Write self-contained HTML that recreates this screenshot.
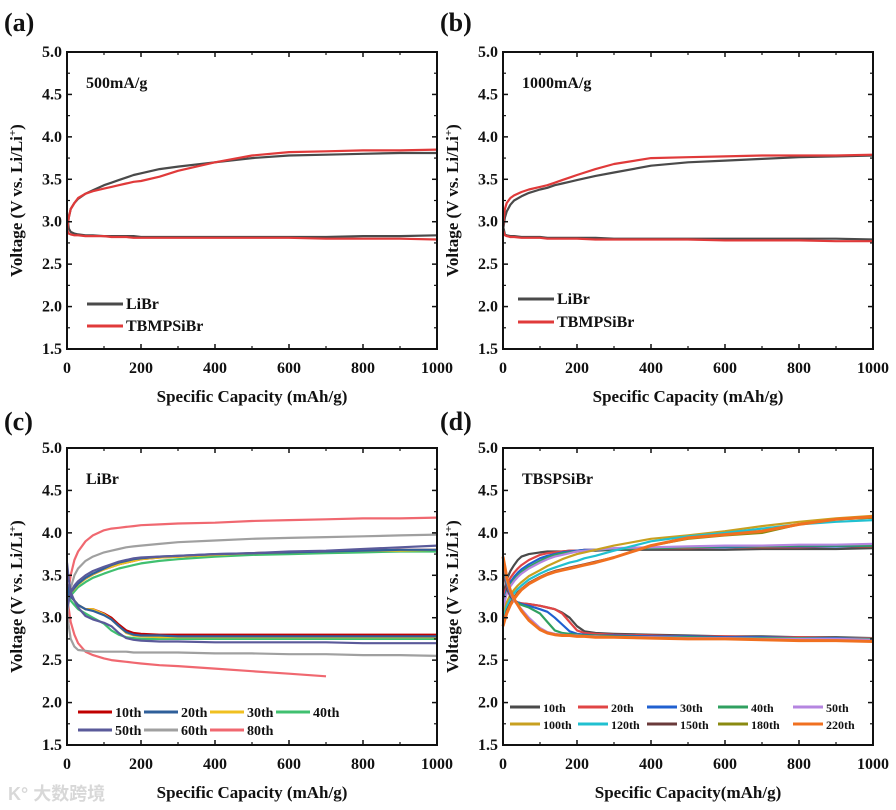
<!DOCTYPE html>
<html><head><meta charset="utf-8">
<style>
html,body{margin:0;padding:0;background:#fff;}
svg{display:block;font-family:"Liberation Serif",serif;font-weight:bold;}
</style></head>
<body>
<svg id="fig" width="896" height="810" viewBox="0 0 896 810" xmlns="http://www.w3.org/2000/svg"></svg>
<script>
// ---- Data ----
const capsAB = [0,5,10,20,30,50,70,100,120,140,160,180,200,250,300,400,500,600,700,800,900,1000];
const aLiBrCharge = [2.9,3.05,3.15,3.22,3.27,3.33,3.37,3.43,3.46,3.49,3.52,3.55,3.57,3.62,3.65,3.70,3.75,3.78,3.79,3.80,3.81,3.81];
const aTbmpCharge = [2.88,3.05,3.15,3.22,3.28,3.33,3.36,3.39,3.41,3.43,3.45,3.47,3.48,3.53,3.60,3.70,3.78,3.82,3.83,3.84,3.84,3.85];
const aLiBrDis = [3.1,2.92,2.88,2.86,2.85,2.84,2.84,2.83,2.83,2.83,2.83,2.83,2.82,2.82,2.82,2.82,2.82,2.82,2.82,2.83,2.83,2.84];
const aTbmpDis = [2.9,2.86,2.85,2.84,2.84,2.83,2.83,2.83,2.82,2.82,2.82,2.81,2.81,2.81,2.81,2.81,2.81,2.81,2.80,2.80,2.80,2.79];
const bLiBrCharge = [2.9,3.05,3.12,3.2,3.25,3.3,3.34,3.38,3.40,3.43,3.45,3.47,3.49,3.54,3.58,3.66,3.70,3.72,3.74,3.76,3.77,3.78];
const bTbmpCharge = [2.95,3.15,3.22,3.28,3.31,3.35,3.38,3.41,3.43,3.46,3.49,3.52,3.55,3.62,3.68,3.75,3.76,3.77,3.78,3.78,3.78,3.79];
const bLiBrDis = [2.95,2.85,2.84,2.83,2.83,2.82,2.82,2.82,2.81,2.81,2.81,2.81,2.81,2.81,2.80,2.80,2.80,2.80,2.80,2.80,2.80,2.79];
const bTbmpDis = [2.9,2.84,2.83,2.82,2.82,2.81,2.81,2.81,2.80,2.80,2.80,2.80,2.80,2.79,2.79,2.79,2.79,2.78,2.78,2.78,2.77,2.77];

const capsC = [0,5,10,20,30,50,70,100,120,140,160,180,200,250,300,400,500,600,700,800,900,1000];
const c10Charge = [3.3,3.3,3.32,3.36,3.40,3.46,3.51,3.57,3.60,3.63,3.65,3.67,3.69,3.71,3.72,3.74,3.76,3.77,3.78,3.79,3.80,3.80];
const c10Dis = [3.4,3.3,3.25,3.2,3.15,3.1,3.1,3.05,3.0,2.92,2.85,2.82,2.81,2.80,2.80,2.80,2.80,2.80,2.80,2.80,2.80,2.80];
const c20Charge = [3.25,3.27,3.3,3.35,3.40,3.47,3.52,3.58,3.62,3.65,3.67,3.69,3.70,3.72,3.73,3.75,3.76,3.77,3.78,3.79,3.80,3.80];
const c20Dis = [3.4,3.3,3.25,3.2,3.15,3.1,3.08,3.03,2.98,2.90,2.83,2.80,2.79,2.79,2.78,2.78,2.78,2.78,2.78,2.78,2.78,2.78];
const c30Charge = [3.25,3.27,3.3,3.34,3.39,3.46,3.51,3.57,3.60,3.63,3.65,3.67,3.69,3.71,3.72,3.74,3.76,3.77,3.78,3.79,3.79,3.80];
const c30Dis = [3.35,3.3,3.25,3.2,3.15,3.1,3.1,3.04,2.98,2.90,2.82,2.79,2.78,2.77,2.77,2.77,2.77,2.77,2.77,2.77,2.77,2.77];
const c40Charge = [3.2,3.22,3.26,3.31,3.36,3.42,3.47,3.52,3.55,3.58,3.60,3.62,3.64,3.67,3.69,3.72,3.74,3.75,3.76,3.77,3.78,3.78];
const c40Dis = [3.3,3.25,3.2,3.15,3.1,3.05,3.0,2.93,2.85,2.80,2.77,2.76,2.75,2.75,2.75,2.75,2.75,2.75,2.75,2.75,2.75,2.75];
const c50Charge = [3.1,3.2,3.3,3.38,3.43,3.5,3.55,3.6,3.63,3.66,3.68,3.7,3.71,3.72,3.73,3.75,3.76,3.78,3.79,3.81,3.83,3.85];
const c50Dis = [3.65,3.45,3.3,3.2,3.12,3.02,2.98,2.94,2.90,2.82,2.76,2.74,2.73,2.72,2.72,2.71,2.71,2.71,2.71,2.70,2.70,2.70];
const c60Charge = [3.0,3.2,3.35,3.5,3.58,3.67,3.72,3.77,3.79,3.81,3.83,3.84,3.85,3.87,3.89,3.91,3.93,3.94,3.95,3.96,3.97,3.98];
const c60Dis = [3.1,2.9,2.75,2.66,2.62,2.61,2.60,2.60,2.60,2.60,2.60,2.59,2.59,2.59,2.59,2.58,2.58,2.57,2.57,2.56,2.56,2.55];
const c80Charge = [3.2,3.35,3.5,3.68,3.78,3.9,3.97,4.03,4.05,4.06,4.07,4.08,4.09,4.10,4.11,4.12,4.14,4.15,4.16,4.17,4.17,4.18];
const c80Dis = [3.3,3.1,2.95,2.8,2.7,2.6,2.56,2.52,2.50,2.49,2.48,2.47,2.46,2.44,2.43,2.40,2.37,2.34,2.31,null,null,null];

const capsD = [0,5,10,20,30,40,50,70,100,120,140,160,180,200,220,250,300,400,500,600,700,800,900,1000];
const d10Charge = [3.2,3.35,3.45,3.55,3.62,3.68,3.72,3.75,3.77,3.78,3.78,3.78,3.79,3.79,3.79,3.79,3.8,3.8,3.8,3.8,3.81,3.81,3.81,3.82];
const d20Charge = [3.15,3.3,3.38,3.47,3.53,3.58,3.62,3.68,3.74,3.76,3.77,3.78,3.79,3.79,3.8,3.8,3.81,3.82,3.82,3.83,3.83,3.83,3.84,3.84];
const d30Charge = [3.1,3.25,3.33,3.42,3.48,3.53,3.57,3.63,3.70,3.73,3.75,3.77,3.78,3.79,3.80,3.80,3.81,3.82,3.83,3.83,3.84,3.84,3.84,3.85];
const d40Charge = [3.08,3.22,3.3,3.39,3.45,3.5,3.54,3.6,3.67,3.71,3.74,3.76,3.77,3.78,3.79,3.80,3.81,3.82,3.83,3.84,3.84,3.85,3.85,3.85];
const d50Charge = [3.05,3.2,3.28,3.37,3.43,3.48,3.52,3.58,3.65,3.69,3.72,3.74,3.76,3.78,3.79,3.80,3.82,3.83,3.84,3.85,3.85,3.86,3.86,3.87];
const d100Charge = [3.0,3.1,3.18,3.27,3.33,3.38,3.42,3.49,3.56,3.61,3.65,3.69,3.72,3.75,3.77,3.80,3.85,3.93,3.97,4.02,4.08,4.13,4.17,4.2];
const d120Charge = [2.95,3.05,3.13,3.22,3.29,3.34,3.38,3.45,3.52,3.56,3.59,3.62,3.65,3.67,3.70,3.73,3.79,3.90,3.96,4.00,4.05,4.10,4.13,4.15];
const d150Charge = [2.92,3.0,3.08,3.17,3.24,3.30,3.34,3.41,3.48,3.52,3.55,3.57,3.59,3.61,3.63,3.66,3.71,3.85,3.94,3.98,4.02,4.10,4.16,4.18];
const d180Charge = [2.91,2.99,3.07,3.16,3.23,3.29,3.33,3.40,3.47,3.51,3.54,3.56,3.58,3.60,3.62,3.65,3.71,3.85,3.93,3.97,4.00,4.10,4.16,4.18];
const d220Charge = [2.9,2.98,3.05,3.15,3.22,3.28,3.33,3.40,3.47,3.51,3.54,3.56,3.58,3.60,3.62,3.65,3.71,3.85,3.94,3.98,4.02,4.10,4.16,4.19];
const d10Dis = [3.55,3.45,3.35,3.25,3.2,3.18,3.17,3.16,3.14,3.12,3.10,3.06,3.0,2.90,2.84,2.82,2.81,2.80,2.79,2.78,2.78,2.77,2.77,2.76];
const d20Dis = [3.6,3.48,3.38,3.27,3.2,3.18,3.17,3.16,3.14,3.12,3.10,3.05,2.95,2.85,2.82,2.81,2.80,2.79,2.78,2.78,2.77,2.77,2.76,2.76];
const d30Dis = [3.62,3.5,3.4,3.28,3.2,3.18,3.16,3.14,3.10,3.07,3.0,2.92,2.84,2.81,2.80,2.79,2.79,2.78,2.78,2.77,2.77,2.76,2.76,2.75];
const d40Dis = [3.65,3.52,3.42,3.3,3.2,3.17,3.15,3.12,3.05,2.95,2.85,2.82,2.81,2.80,2.79,2.79,2.78,2.77,2.77,2.76,2.76,2.76,2.75,2.75];
const d50Dis = [3.68,3.55,3.44,3.3,3.2,3.15,3.10,3.0,2.88,2.83,2.81,2.80,2.79,2.79,2.78,2.78,2.77,2.77,2.76,2.76,2.75,2.75,2.75,2.74];
const dLateDis = [3.72,3.6,3.48,3.32,3.22,3.15,3.08,2.97,2.86,2.82,2.80,2.79,2.79,2.78,2.78,2.77,2.77,2.76,2.75,2.75,2.74,2.73,2.73,2.72];

const xTicks = [0,200,400,600,800,1000];
const yTicks = [1.5,2.0,2.5,3.0,3.5,4.0,4.5,5.0];

// ---- Drawing ----
const NS = "http://www.w3.org/2000/svg";
const svg = document.getElementById('fig');
function mk(tag, attrs, parent){const e=document.createElementNS(NS,tag);for(const k in attrs)e.setAttribute(k,attrs[k]);(parent||svg).appendChild(e);return e;}

function panel(p){
  const g = mk('g',{});
  
  
  const X = v => p.x0 + (v-0)/1000*(p.x1-p.x0);
  const Y = v => p.y1 - (v-1.5)/3.5*(p.y1-p.y0);
  p.series.forEach(s=>{
    let d='';let pen=false;
    s.caps.forEach((c,i)=>{const v=s.vals[i];if(v===null||v===undefined){pen=false;return;}d+=(pen?'L':'M')+X(c).toFixed(1)+','+Y(v).toFixed(1);pen=true;});
    const path = mk('path',{d:d,fill:'none',stroke:s.color,'stroke-width':s.w||2.2,'stroke-linejoin':'round'},g);
    
    
  });
  const fr = mk('rect',{x:p.x0,y:p.y0,width:p.x1-p.x0,height:p.y1-p.y0,fill:'none',stroke:'#111','stroke-width':2},g);
  
  
  xTicks.forEach(t=>{
    mk('line',{x1:X(t),x2:X(t),y1:p.y1,y2:p.y1-5,stroke:'#111','stroke-width':1.5},g);
    mk('line',{x1:X(t),x2:X(t),y1:p.y0,y2:p.y0+5,stroke:'#111','stroke-width':1.5},g);
    const tl = mk('text',{x:X(t),y:p.y1+24,'text-anchor':'middle','font-size':16,fill:'#111'},g);
    tl.textContent=t;
    
    
  });
  for(let t=100;t<1000;t+=200){
    mk('line',{x1:X(t),x2:X(t),y1:p.y1,y2:p.y1-3,stroke:'#111','stroke-width':1.2},g);
    mk('line',{x1:X(t),x2:X(t),y1:p.y0,y2:p.y0+3,stroke:'#111','stroke-width':1.2},g);
  }
  yTicks.forEach(t=>{
    mk('line',{x1:p.x0,x2:p.x0+5,y1:Y(t),y2:Y(t),stroke:'#111','stroke-width':1.5},g);
    mk('line',{x1:p.x1,x2:p.x1-5,y1:Y(t),y2:Y(t),stroke:'#111','stroke-width':1.5},g);
    const tl = mk('text',{x:p.x0-5,y:Y(t)+5,'text-anchor':'end','font-size':16,fill:'#111'},g);
    tl.textContent=t.toFixed(1);
    
    
  });
  for(let t=1.75;t<5;t+=0.5){
    mk('line',{x1:p.x0,x2:p.x0+3,y1:Y(t),y2:Y(t),stroke:'#111','stroke-width':1.2},g);
    mk('line',{x1:p.x1,x2:p.x1-3,y1:Y(t),y2:Y(t),stroke:'#111','stroke-width':1.2},g);
  }
  const xt = mk('text',{x:(p.x0+p.x1)/2,y:p.y1+53,'text-anchor':'middle','font-size':17,fill:'#111'},g);
  xt.textContent=p.xlabel;
  
  
  const cy=(p.y0+p.y1)/2;
  const yt = mk('text',{x:p.x0-45,y:cy,'text-anchor':'middle','font-size':17,fill:'#111',transform:`rotate(-90 ${p.x0-45} ${cy})`},g);
  yt.innerHTML=p.ylabel;
  
  
  const lt = mk('text',{x:p.lx,y:p.ly,'font-size':26,fill:'#111'},g);
  lt.textContent=p.letter;
  
  
  const an = mk('text',{x:p.x0+19,y:p.y0+36,'font-size':16,fill:'#111'},g);
  an.textContent=p.note;
  
  
  p.legend.forEach(L=>{
    const ll = mk('line',{x1:L.x,x2:L.x+L.len,y1:L.y,y2:L.y,stroke:L.color,'stroke-width':3},g);
    
    
    const lx = mk('text',{x:L.x+L.len+3,y:L.y+5,'font-size':L.fs||14,fill:'#111'},g);
    lx.textContent=L.label;
    
    
  });
}
const YL = 'Voltage (V vs. Li/Li<tspan dy="-6" font-size="11">+</tspan><tspan dy="6">)</tspan>';
const GR='#4a4a4a', RD='#e03a3a';

panel({name:'panel-a',x0:67,x1:437,y0:52,y1:349,letter:'(a)',lx:4,ly:31,note:'500mA/g',
  xlabel:'Specific Capacity (mAh/g)',ylabel:YL,
  series:[{id:'libr-charge',caps:capsAB,vals:aLiBrCharge,color:GR},{id:'libr-discharge',caps:capsAB,vals:aLiBrDis,color:GR},
          {id:'tbmpsibr-charge',caps:capsAB,vals:aTbmpCharge,color:RD},{id:'tbmpsibr-discharge',caps:capsAB,vals:aTbmpDis,color:RD}],
  legend:[{x:87,y:304,len:36,color:GR,label:'LiBr',fs:16},{x:87,y:326,len:36,color:RD,label:'TBMPSiBr',fs:16}]});

panel({name:'panel-b',x0:503,x1:873,y0:52,y1:349,letter:'(b)',lx:440,ly:31,note:'1000mA/g',
  xlabel:'Specific Capacity (mAh/g)',ylabel:YL,
  series:[{id:'libr-charge',caps:capsAB,vals:bLiBrCharge,color:GR},{id:'libr-discharge',caps:capsAB,vals:bLiBrDis,color:GR},
          {id:'tbmpsibr-charge',caps:capsAB,vals:bTbmpCharge,color:RD},{id:'tbmpsibr-discharge',caps:capsAB,vals:bTbmpDis,color:RD}],
  legend:[{x:518,y:299,len:36,color:GR,label:'LiBr',fs:16},{x:518,y:322,len:36,color:RD,label:'TBMPSiBr',fs:16}]});

const cCol={c10:'#c00000',c20:'#2f5f9a',c30:'#f0c020',c40:'#40c070',c50:'#5a5a9a',c60:'#a0a0a0',c80:'#f06870'};
panel({name:'panel-c',x0:67,x1:437,y0:448,y1:745,letter:'(c)',lx:4,ly:430,note:'LiBr',
  xlabel:'Specific Capacity (mAh/g)',ylabel:YL,
  series:[
   {id:'80th-charge',caps:capsC,vals:c80Charge,color:cCol.c80},{id:'80th-discharge',caps:capsC,vals:c80Dis,color:cCol.c80},
   {id:'60th-charge',caps:capsC,vals:c60Charge,color:cCol.c60},{id:'60th-discharge',caps:capsC,vals:c60Dis,color:cCol.c60},
   {id:'10th-charge',caps:capsC,vals:c10Charge,color:cCol.c10},{id:'10th-discharge',caps:capsC,vals:c10Dis,color:cCol.c10},
   {id:'40th-charge',caps:capsC,vals:c40Charge,color:cCol.c40},{id:'40th-discharge',caps:capsC,vals:c40Dis,color:cCol.c40},
   {id:'30th-charge',caps:capsC,vals:c30Charge,color:cCol.c30},{id:'30th-discharge',caps:capsC,vals:c30Dis,color:cCol.c30},
   {id:'20th-charge',caps:capsC,vals:c20Charge,color:cCol.c20},{id:'20th-discharge',caps:capsC,vals:c20Dis,color:cCol.c20},
   {id:'50th-charge',caps:capsC,vals:c50Charge,color:cCol.c50},{id:'50th-discharge',caps:capsC,vals:c50Dis,color:cCol.c50}],
  legend:[{x:78,y:712,len:34,color:cCol.c10,label:'10th'},{x:144,y:712,len:34,color:cCol.c20,label:'20th'},
          {x:210,y:712,len:34,color:cCol.c30,label:'30th'},{x:276,y:712,len:34,color:cCol.c40,label:'40th'},
          {x:78,y:730,len:34,color:cCol.c50,label:'50th'},{x:144,y:730,len:34,color:cCol.c60,label:'60th'},
          {x:210,y:730,len:34,color:cCol.c80,label:'80th'}]});

const dCol={d10:'#4a4a4a',d20:'#e04545',d30:'#2060d0',d40:'#30a060',d50:'#b585e0',d100:'#c8a020',d120:'#20c0d0',d150:'#6a3a3a',d180:'#8a8a10',d220:'#f07020'};
panel({name:'panel-d',x0:503,x1:873,y0:448,y1:745,letter:'(d)',lx:440,ly:430,note:'TBSPSiBr',
  xlabel:'Specific Capacity(mAh/g)',ylabel:YL,
  series:[
   {id:'10th-charge',caps:capsD,vals:d10Charge,color:dCol.d10},{id:'20th-charge',caps:capsD,vals:d20Charge,color:dCol.d20},
   {id:'30th-charge',caps:capsD,vals:d30Charge,color:dCol.d30},{id:'40th-charge',caps:capsD,vals:d40Charge,color:dCol.d40},
   {id:'50th-charge',caps:capsD,vals:d50Charge,color:dCol.d50},{id:'100th-charge',caps:capsD,vals:d100Charge,color:dCol.d100},
   {id:'120th-charge',caps:capsD,vals:d120Charge,color:dCol.d120},{id:'150th-charge',caps:capsD,vals:d150Charge,color:dCol.d150},
   {id:'180th-charge',caps:capsD,vals:d180Charge,color:dCol.d180},{id:'220th-charge',caps:capsD,vals:d220Charge,color:dCol.d220,w:3},
   {id:'10th-discharge',caps:capsD,vals:d10Dis,color:dCol.d10},{id:'20th-discharge',caps:capsD,vals:d20Dis,color:dCol.d20},
   {id:'30th-discharge',caps:capsD,vals:d30Dis,color:dCol.d30},{id:'40th-discharge',caps:capsD,vals:d40Dis,color:dCol.d40},
   {id:'50th-discharge',caps:capsD,vals:d50Dis,color:dCol.d50},{id:'late-discharge',caps:capsD,vals:dLateDis,color:dCol.d220,w:3}],
  legend:[{x:510,y:707,len:30,color:dCol.d10,label:'10th',fs:12},{x:578,y:707,len:30,color:dCol.d20,label:'20th',fs:12},
          {x:647,y:707,len:30,color:dCol.d30,label:'30th',fs:12},{x:718,y:707,len:30,color:dCol.d40,label:'40th',fs:12},
          {x:793,y:707,len:30,color:dCol.d50,label:'50th',fs:12},
          {x:510,y:724,len:30,color:dCol.d100,label:'100th',fs:12},{x:578,y:724,len:30,color:dCol.d120,label:'120th',fs:12},
          {x:647,y:724,len:30,color:dCol.d150,label:'150th',fs:12},{x:718,y:724,len:30,color:dCol.d180,label:'180th',fs:12},
          {x:793,y:724,len:30,color:dCol.d220,label:'220th',fs:12}]});

const wm = mk('text',{x:8,y:800,'font-size':18,fill:'#d8d8d8','font-family':'"Liberation Sans","Noto Sans CJK SC",sans-serif'});
wm.textContent='K° 大数跨境';


</script>
</body></html>
